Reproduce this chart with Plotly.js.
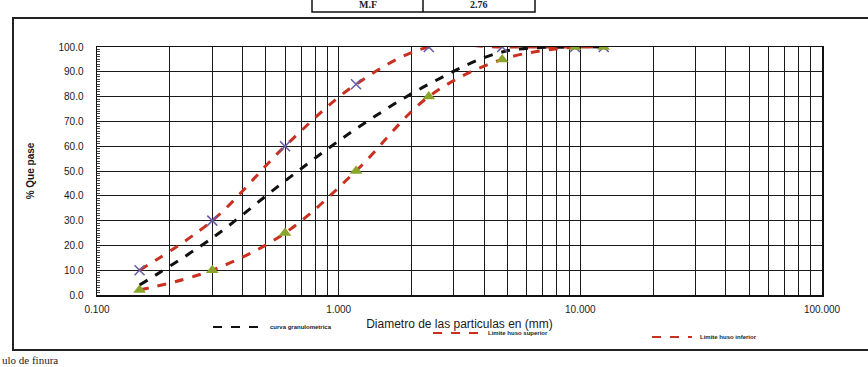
<!DOCTYPE html>
<html>
<head>
<meta charset="utf-8">
<script src="https://cdn.plot.ly/plotly-3.0.1.min.js"></script>
<style>html,body{margin:0;padding:0;background:#fff;}#chart{width:868px;height:367px;}</style>
</head>
<body>
<div id="chart"></div>
<script>
// Sieve openings (mm)
var sieves = [0.15, 0.3, 0.6, 1.18, 2.36, 4.75, 9.5, 12.5];
// % passing
var curva = [4, 23, 46, 67, 85, 98, 100, 100];
var husoSuperior = [10, 30, 60, 85, 100, 100, 100, 100];
var husoInferior = [2, 10, 25, 50, 80, 95, 100, 100];
var seriesNames = ["curva granulometrica", "Limite huso superior", "Limite huso inferior"];
// x tick positions / labels
var xTickVals = [0.1,0.2,0.3,0.4,0.5,0.6,0.7,0.8,0.9,1,2,3,4,5,6,7,8,9,10,20,30,40,50,60,70,80,90,100];
var xTickText = xTickVals.map(function(v){
  if (v === 0.1) return "0.100";
  if (v === 1) return "1.000";
  if (v === 10) return "10.000";
  if (v === 100) return "100.000";
  return "";
});
var mfLabel = "M.F";
var mfValue = "2.76";

var W = 868, H = 367, L = 97, R = 46, T = 47, B = 72;
var pw = W - L - R, ph = H - T - B;
function px(x){ return (x - L) / pw; }
function py(y){ return (H - B - y) / ph; }

var red = "#c9301f";
var colors = ["#111111", red, red];
var traces = [
  {x: sieves, y: curva, name: seriesNames[0], mode: "lines",
   line: {color: colors[0], width: 3, dash: "dash", shape: "spline"}},
  {x: sieves, y: husoSuperior, name: seriesNames[1], mode: "lines+markers",
   line: {color: colors[1], width: 3, dash: "dash", shape: "spline"},
   marker: {symbol: "x-thin-open", size: 10, color: "#6a5caa", line: {color: "#6a5caa", width: 1.6}}},
  {x: sieves, y: husoInferior, name: seriesNames[2], mode: "lines+markers",
   line: {color: colors[2], width: 3, dash: "dash", shape: "spline"},
   marker: {symbol: "triangle-up", size: 11, color: "#8aa62a"}}
];

// manual legend (pixel anchors)
var legendPos = [[213, 262, 327], [433, 480, 333], [652, 692, 337]];
var shapes = [
  {type: "rect", xref: "paper", yref: "paper", x0: px(13), x1: px(875), y0: py(350), y1: py(18),
   line: {color: "#222", width: 2}, fillcolor: "rgba(0,0,0,0)", layer: "below"},
  {type: "rect", xref: "paper", yref: "paper", x0: px(312), x1: px(535), y0: py(12), y1: py(-10),
   line: {color: "#111", width: 1.5}, fillcolor: "rgba(0,0,0,0)"},
  {type: "line", xref: "paper", yref: "paper", x0: px(423), x1: px(423), y0: py(12), y1: py(-10),
   line: {color: "#111", width: 1.5}}
];
var annotations = [
  {xref: "paper", yref: "paper", x: px(368), y: py(5), text: "<b>" + mfLabel + "</b>", showarrow: false,
   font: {family: "Liberation Serif, Times New Roman, serif", size: 10, color: "#222"}, xanchor: "center", yanchor: "middle"},
  {xref: "paper", yref: "paper", x: px(479), y: py(5), text: "<b>" + mfValue + "</b>", showarrow: false,
   font: {family: "Liberation Serif, Times New Roman, serif", size: 10, color: "#222"}, xanchor: "center", yanchor: "middle"},
  {xref: "paper", yref: "paper", x: px(0), y: py(360), text: "ulo de finura", showarrow: false,
   font: {family: "Liberation Serif, Times New Roman, serif", size: 11, color: "#222"}, xanchor: "left", yanchor: "middle"}
];
legendPos.forEach(function(p, i){
  shapes.push({type: "line", xref: "paper", yref: "paper", x0: px(p[0]), x1: px(p[1]), y0: py(p[2]), y1: py(p[2]),
               line: {color: colors[i], width: 2.2, dash: "dash"}});
  annotations.push({xref: "paper", yref: "paper", x: px(p[1] + 6), y: py(p[2]), text: "<b>" + seriesNames[i] + "</b>",
                    showarrow: false, xanchor: "left", yanchor: "middle",
                    font: {family: "Liberation Sans, Arial, sans-serif", size: 6, color: "#222"}});
});

var layout = {
  width: W, height: H,
  margin: {l: L, r: R, t: T, b: B},
  paper_bgcolor: "#ffffff", plot_bgcolor: "#ffffff",
  font: {family: "Liberation Sans, Arial, sans-serif", color: "#222"},
  showlegend: false,
  xaxis: {type: "log", range: [-1, 2], tickmode: "array", tickvals: xTickVals, ticktext: xTickText,
          showgrid: true, gridcolor: "#1a1a1a", gridwidth: 1, showline: true, linecolor: "#111",
          linewidth: 1.5, mirror: true, ticks: "", zeroline: false, ticklabelstandoff: 4,
          tickfont: {size: 10, color: "#1a1a1a"},
          title: {text: "Diametro de las particulas en (mm)", font: {size: 12, color: "#1a1a1a"}, standoff: 6}},
  yaxis: {range: [0, 100], dtick: 10, tickformat: ".1f", showgrid: true, gridcolor: "#1a1a1a",
          gridwidth: 1, showline: true, linecolor: "#111", linewidth: 1.5, mirror: true,
          ticks: "", zeroline: false, tickfont: {size: 10, color: "#1a1a1a"}, ticklabelstandoff: 10,
          minor: {dtick: 1, ticks: "inside", ticklen: 3, tickcolor: "#444", showgrid: false},
          title: {text: "<b>% Que pase</b>", font: {size: 10, color: "#1a1a1a"}, standoff: 22}},
  shapes: shapes,
  annotations: annotations
};

Plotly.newPlot("chart", traces, layout, {displayModeBar: false, staticPlot: true});
</script>
</body>
</html>
